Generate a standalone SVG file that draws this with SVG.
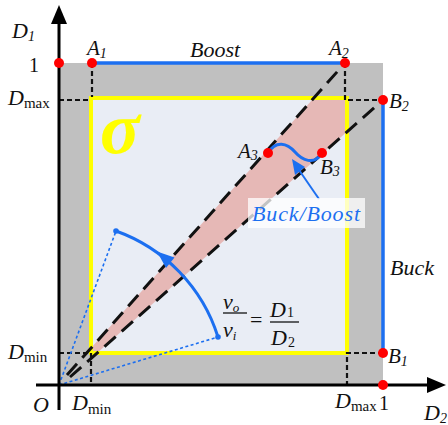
<svg xmlns="http://www.w3.org/2000/svg" width="448" height="425" viewBox="0 0 448 425">
<defs>
<style>
.lbl{font-family:"Liberation Serif","Times New Roman",Times,"DejaVu Serif",serif;font-style:italic;fill:#111;}
.up{font-family:"Liberation Serif","Times New Roman",Times,"DejaVu Serif",serif;fill:#111;}
.nrm{font-style:normal;}
.grid{stroke:#111;stroke-width:2.2;stroke-dasharray:5,3;fill:none;}
.diag{stroke:#111;stroke-width:3;stroke-dasharray:15,8;fill:none;}
.dot{fill:#ff0000;}
.blue{stroke:#1c6ff0;stroke-width:3;fill:none;}
.bdot{stroke:#1c6ff0;stroke-width:1.6;stroke-dasharray:3,2.5;fill:none;}
</style>
<clipPath id="inner"><rect x="91" y="98" width="256" height="255"/></clipPath>
</defs>
<rect width="448" height="425" fill="#fff"/>
<g id="regions">
<rect x="59" y="63" width="324" height="322" fill="#c0c0c0"/>
<rect x="91" y="98" width="256" height="255" fill="#e9edf5"/>
<polygon points="67,375 345,63 383,100 70,377" fill="#e6b8b6" clip-path="url(#inner)"/>
<rect x="91" y="98" width="256" height="255" fill="none" stroke="#ffff00" stroke-width="4"/>
</g>
<g id="connectors">
<polyline class="grid" points="59,100 91,100"/>
<polyline class="grid" points="92,63 92,97"/>
<polyline class="grid" points="345,63 345,100 383,100"/>
<polyline class="grid" points="59,353 91,353"/>
<polyline class="grid" points="91,353 91,385"/>
<polyline class="grid" points="383,353 347,353 347,385"/>
<line x1="92" y1="63" x2="345" y2="63" stroke="#1c6ff0" stroke-width="3.5"/>
<line x1="383" y1="100" x2="383" y2="353" stroke="#1c6ff0" stroke-width="3.5"/>
<line class="diag" x1="67" y1="375" x2="345" y2="63"/>
<line class="diag" x1="70" y1="377" x2="383" y2="100"/>
<line class="bdot" x1="59" y1="385" x2="116" y2="231"/>
<line class="bdot" x1="59" y1="385" x2="218" y2="337"/>
<path class="blue" d="M218,337 A165,165 0 0 0 116,231" stroke-width="2.4"/>
<polygon points="157,251.5 174.5,257.5 166,268" fill="#1c6ff0"/>
<circle cx="116" cy="231" r="2.8" fill="#1c6ff0"/>
<circle cx="218" cy="337" r="2.8" fill="#1c6ff0"/>
<path class="blue" d="M268,153 C276,140 287,143 295,152 C302,160 314,166 322,153" stroke-width="3"/>
<line x1="319" y1="199" x2="299" y2="170" stroke="#1c6ff0" stroke-width="2"/>
<polygon points="292,159 305,167 295,175" fill="#1c6ff0"/>
</g>
<g id="axes">
<line x1="59" y1="410" x2="59" y2="20" stroke="#000" stroke-width="3"/>
<polygon points="59,5 51,24 67,24" fill="#000"/>
<line x1="36" y1="385" x2="430" y2="385" stroke="#000" stroke-width="3"/>
<polygon points="446,385 427,377 427,393" fill="#000"/>
</g>
<g id="points">
<circle class="dot" cx="59" cy="63" r="5"/>
<circle id="A1" class="dot" cx="92" cy="63" r="5"/>
<circle id="A2" class="dot" cx="345" cy="63" r="5"/>
<circle id="B2" class="dot" cx="383" cy="100" r="5"/>
<circle id="B1" class="dot" cx="383" cy="353" r="5"/>
<circle class="dot" cx="383" cy="385" r="5"/>
<circle id="A3" class="dot" cx="268" cy="153" r="5"/>
<circle id="B3" class="dot" cx="322" cy="153" r="5"/>
</g>
<g id="labels">
<text class="lbl" x="12" y="38" font-size="22">D<tspan font-size="14" dy="3">1</tspan></text>
<text class="up" x="29" y="72" font-size="20">1</text>
<text class="lbl" x="8" y="105" font-size="22">D<tspan class="nrm" font-size="15" dy="3">max</tspan></text>
<text class="lbl" x="8" y="359" font-size="22">D<tspan class="nrm" font-size="15" dy="3">min</tspan></text>
<text class="lbl" x="33" y="412" font-size="22">O</text>
<text class="lbl" x="72" y="410" font-size="22">D<tspan class="nrm" font-size="15" dy="4">min</tspan></text>
<text class="lbl" x="335" y="408" font-size="22">D<tspan class="nrm" font-size="15" dy="3">max</tspan></text>
<text class="up" x="379" y="410" font-size="20">1</text>
<text class="lbl" x="424" y="420" font-size="22">D<tspan font-size="14" dy="3">2</tspan></text>
<text class="lbl" x="87" y="55" font-size="21">A<tspan font-size="14" dy="3">1</tspan></text>
<text class="lbl" x="329" y="55" font-size="21">A<tspan font-size="14" dy="3">2</tspan></text>
<text class="lbl" x="389" y="108" font-size="21">B<tspan font-size="14" dy="3">2</tspan></text>
<text class="lbl" x="388" y="363" font-size="21">B<tspan font-size="14" dy="3">1</tspan></text>
<text class="lbl" x="238" y="158" font-size="21">A<tspan font-size="14" dy="2">3</tspan></text>
<text class="lbl" x="320" y="174" font-size="21">B<tspan font-size="14" dy="2">3</tspan></text>
<text class="lbl" x="190" y="57" font-size="22">Boost</text>
<text class="lbl" x="390" y="275" font-size="22">Buck</text>
<text class="lbl" x="100" y="153" font-size="74" font-weight="bold" style="fill:#ffff00">σ</text>
<text class="lbl" x="223" y="309" font-size="22">v<tspan font-size="13" dy="3">o</tspan></text>
<line x1="223" y1="313" x2="247" y2="313" stroke="#111" stroke-width="1.3"/>
<text class="lbl" x="223" y="337" font-size="22">v<tspan font-size="13" dy="3">i</tspan></text>
<text class="up" x="250" y="327" font-size="22">=</text>
<text class="lbl" x="270" y="317" font-size="22">D<tspan class="nrm" font-size="14" dx="1">1</tspan></text>
<line x1="270" y1="322" x2="299" y2="322" stroke="#111" stroke-width="1.3"/>
<text class="lbl" x="271" y="345" font-size="22">D<tspan class="nrm" font-size="14" dx="1" dy="2">2</tspan></text>
</g>
<g id="buckboost">
<rect x="248" y="198" width="117" height="30" fill="#fff" fill-opacity="0.75"/>
<text class="lbl" x="252" y="221" font-size="22" style="fill:#1c6ff0" textLength="108">Buck/Boost</text>
</g>
</svg>
